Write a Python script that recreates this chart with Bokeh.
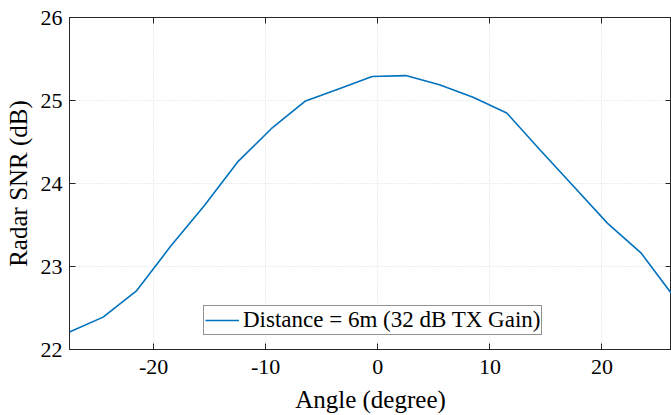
from bokeh.plotting import figure
from bokeh.models import LinearAxis, FixedTicker, Range1d, Legend, LegendItem
from bokeh.embed import file_html
from bokeh.resources import INLINE

# ---- data ----
angle = [-27.5, -24.5, -21.5, -18.5, -15.5, -12.5, -9.5, -6.5, -3.5, -0.5,
         2.5, 5.5, 8.5, 11.5, 14.5, 17.5, 20.5, 23.5, 26.5]
snr = [22.21, 22.39, 22.71, 23.24, 23.73, 24.26, 24.66, 24.99, 25.14, 25.29,
       25.30, 25.19, 25.04, 24.85, 24.40, 23.96, 23.52, 23.16, 22.62]
x_ticks = [-20, -10, 0, 10, 20]
x_tick_labels = ["-20", "-10", "0", "10", "20"]
y_ticks = [22, 23, 24, 25, 26]
y_tick_labels = ["22", "23", "24", "25", "26"]
series_label = "Distance = 6m (32 dB TX Gain)"
x_label = "Angle (degree)"
y_label = "Radar SNR (dB)"

FONT = "Liberation Serif"
AX = "#262626"

p = figure(width=671, height=415, output_backend="svg", toolbar_location=None,
           x_range=Range1d(-27.5, 26.2), y_range=Range1d(22, 26),
           min_border_left=69, min_border_right=0, min_border_top=17,
           min_border_bottom=64, x_axis_label=x_label, y_axis_label=y_label)
p.background_fill_color = "white"
p.border_fill_color = "white"
p.outline_line_color = AX

r = p.line(angle, snr, line_color="#0072BD", line_width=1.6)

def style(ax, ticks, labels, show):
    ax.ticker = FixedTicker(ticks=ticks)
    ax.axis_line_color = AX
    ax.axis_line_width = 1
    ax.major_tick_line_color = AX
    ax.major_tick_in = 6
    ax.major_tick_out = 0
    ax.minor_tick_line_color = None
    ax.major_label_text_font = FONT
    ax.major_label_text_color = "#000000"
    ax.major_label_text_font_size = "22px"
    if show:
        ax.major_label_overrides = {t: l for t, l in zip(ticks, labels)}
    else:
        ax.major_label_overrides = {t: "" for t in ticks}
        ax.major_label_standoff = 0
    ax.axis_label_text_font = FONT
    ax.axis_label_text_font_size = "25px"
    ax.axis_label_text_font_style = "normal"
    ax.axis_label_text_color = "#000000"

style(p.xaxis[0], x_ticks, x_tick_labels, True)
style(p.yaxis[0], y_ticks, y_tick_labels, True)
p.xaxis[0].major_label_standoff = 10
p.xaxis[0].axis_label_standoff = 9
p.yaxis[0].major_label_standoff = 7
p.yaxis[0].axis_label_standoff = 6

top = LinearAxis()
style(top, x_ticks, x_tick_labels, False)
p.add_layout(top, "above")
right = LinearAxis()
style(right, y_ticks, y_tick_labels, False)
p.add_layout(right, "right")

for g in (p.xgrid[0], p.ygrid[0]):
    g.grid_line_color = "#dadada"
    g.grid_line_dash = "1 2"
    g.grid_line_width = 1
p.xgrid[0].ticker = FixedTicker(ticks=x_ticks)
p.ygrid[0].ticker = FixedTicker(ticks=y_ticks)

legend = Legend(items=[LegendItem(label=series_label, renderers=[r])],
                location=(134, 14))
legend.label_text_font = FONT
legend.label_text_font_size = "23px"
legend.label_text_color = "#000000"
legend.glyph_width = 34
legend.glyph_height = 18
legend.label_height = 18
legend.label_standoff = 4
legend.padding = 1
legend.margin = 0
legend.spacing = 0
legend.border_line_color = AX
legend.border_line_width = 1
legend.background_fill_color = "white"
legend.background_fill_alpha = 1
p.add_layout(legend, "center")

open("out.html", "w").write(file_html(p, INLINE))
